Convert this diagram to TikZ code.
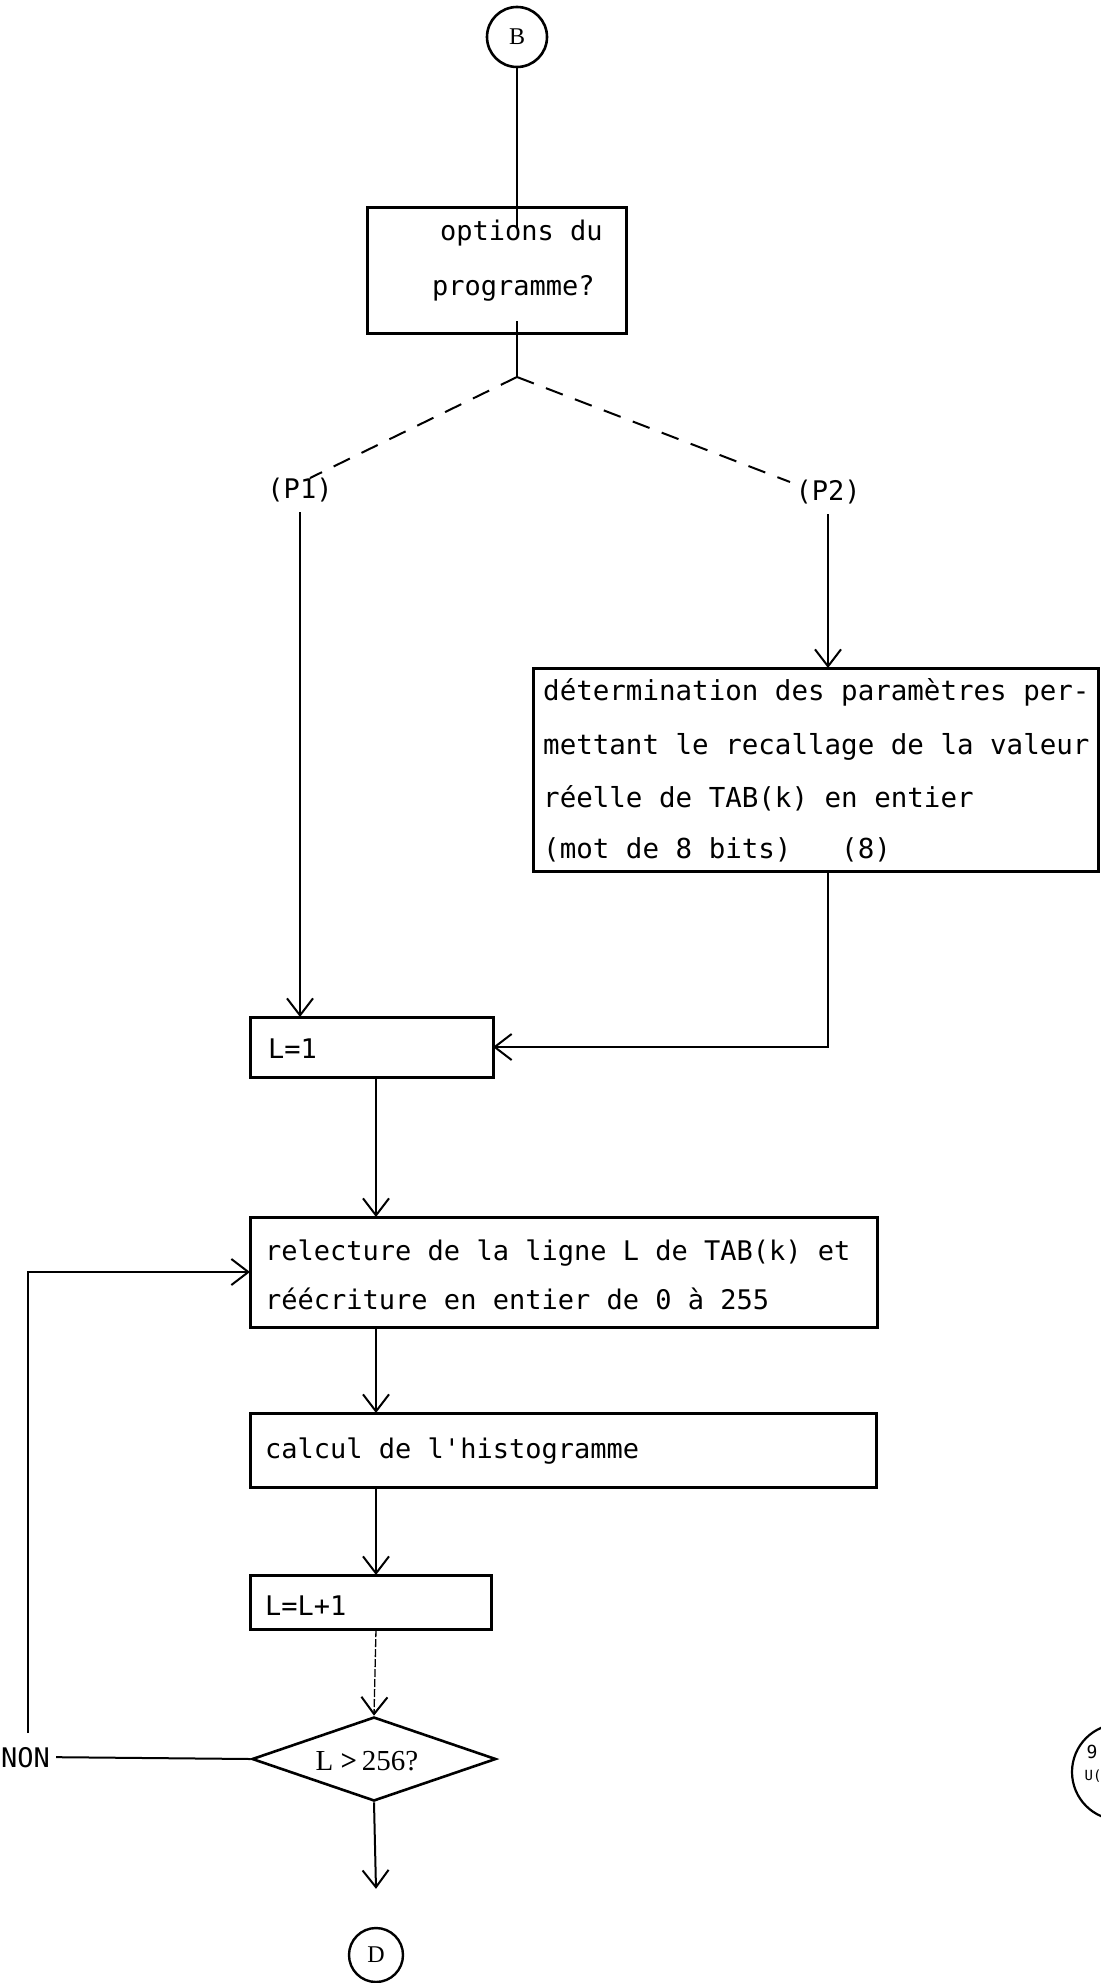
\documentclass[tikz,border=0pt]{standalone}
\usepackage{fontspec}
\newfontfamily\typew{DejaVu Sans Mono}
\newfontfamily\serifrm{Liberation Serif}
\usetikzlibrary{arrows.meta,shapes.geometric,calc}
\begin{document}
\begin{tikzpicture}[x=1pt,y=-1pt,
  box/.style={draw=black,line width=3pt,inner sep=0pt,outer sep=0pt,anchor=north west},
  conn/.style={line width=2pt},
  arr/.style={line width=2pt,-{Straight Barb[length=17pt,width=26pt,line width=2pt]}},
  thinarr/.style={line width=1.3pt,dash pattern=on 8pt off 2pt,-{Straight Barb[length=17pt,width=26pt,line width=2pt]}},
  txt/.style={font=\typew\fontsize{27}{32}\selectfont,inner sep=0pt,anchor=base west},
  dtxt/.style={font=\typew\fontsize{27.5}{32}\selectfont,inner sep=0pt,anchor=base west},
  circ/.style={draw,circle,line width=2.6pt,inner sep=0pt,font=\serifrm\fontsize{24}{28}\selectfont}]
\useasboundingbox (0,0) rectangle (1100,1983);
\fill[white] (0,0) rectangle (1100,1983);

% start
\node[circ,minimum size=60pt] (B) at (517,37) {B};
\node[box,minimum width=259pt,minimum height=126pt] (opt) at (367,207) {};
\node[txt] (opt1) at (440,240) {options du};
\node[txt] (opt2) at (432,295) {programme?};
\draw[conn] (B.south) -- ([yshift=-20pt]B.south |- opt.north);
\coordinate (apex) at (517,377);
\draw[conn] ([yshift=12pt]apex |- opt.south) -- (apex);

% branches
\node[txt,anchor=center] (P1) at (300,490) {(P1)};
\node[txt,anchor=center] (P2) at (828,492) {(P2)};
\coordinate (dl) at (310,478);
\coordinate (dr) at (790,482);
\draw[conn,dash pattern=on 18pt off 13pt] (apex) -- (dl);
\draw[conn,dash pattern=on 18pt off 13pt] (apex) -- (dr);

% P2 box
\node[box,minimum width=565pt,minimum height=203pt] (det) at (533,668) {};
\node[dtxt] (d1) at (543,700) {détermination des paramètres per-};
\node[dtxt] (d2) at (543,754) {mettant le recallage de la valeur};
\node[dtxt] (d3) at (543,807) {réelle de TAB(k) en entier};
\node[dtxt] (d4) at (543,858) {(mot de 8 bits)\ \ \ (8)};

% L=1
\node[box,minimum width=243pt,minimum height=60pt] (L1) at (250,1017) {};
\node[txt] (L1t) at (268,1058) {L=1};
\draw[arr] ([yshift=-10pt]P1.south) -- (P1.south |- L1.north);
\draw[arr] ([yshift=-10pt]P2.south) -- (P2.south |- det.north);
\draw[arr] (P2.south |- det.south) -- (P2.south |- L1.east) -- (L1.east);

\coordinate (col) at (376,0);

% relecture
\node[box,minimum width=627pt,minimum height=110pt] (rel) at (250,1217) {};
\node[txt] (r1) at (265,1260) {relecture de la ligne L de TAB(k) et};
\node[txt] (r2) at (265,1309) {réécriture en entier de 0 à 255};
\draw[arr] (col |- L1.south) -- (col |- rel.north);

% calcul
\node[box,minimum width=626pt,minimum height=74pt] (cal) at (250,1413) {};
\node[txt] (c1) at (265,1458) {calcul de l\textquotesingle histogramme};
\draw[arr] (col |- rel.south) -- (col |- cal.north);

% L=L+1
\node[box,minimum width=241pt,minimum height=54pt] (LL) at (250,1575) {};
\node[txt] (LLt) at (265,1615) {L=L+1};
\draw[arr] (col |- cal.south) -- (col |- LL.north);

% test
\node[diamond,draw,line width=2.6pt,minimum width=244pt,minimum height=84pt,inner sep=0pt] (dia) at (374,1759) {};
\node[font=\serifrm\fontsize{29}{32}\selectfont,inner sep=0pt] (diat) at (367,1761) {L {\bfseries >}\,256?};
\draw[thinarr] (col |- LL.south) -- (dia.north);

% end
\node[circ,minimum size=54pt,line width=2.4pt] (D) at (376,1955) {D};
\draw[arr] (dia.south) -- ([yshift=38pt]D.north);

% loop
\node[txt] (non) at (1,1767) {NON};
\draw[conn] ([xshift=6pt]non.east) -- (dia.west);
\coordinate (lb) at (28,1733);
\draw[arr] (lb) |- (rel.west);

% stamp (partly off the page)
\draw[line width=2.2pt] (1120,1772) circle[radius=48pt];
\node[font=\typew\fontsize{18}{20}\selectfont,inner sep=0pt] (st1) at (1092,1752) {9};
\node[font=\typew\fontsize{14}{16}\selectfont,inner sep=0pt] (st2) at (1093,1776) {U(};
\end{tikzpicture}
\end{document}
